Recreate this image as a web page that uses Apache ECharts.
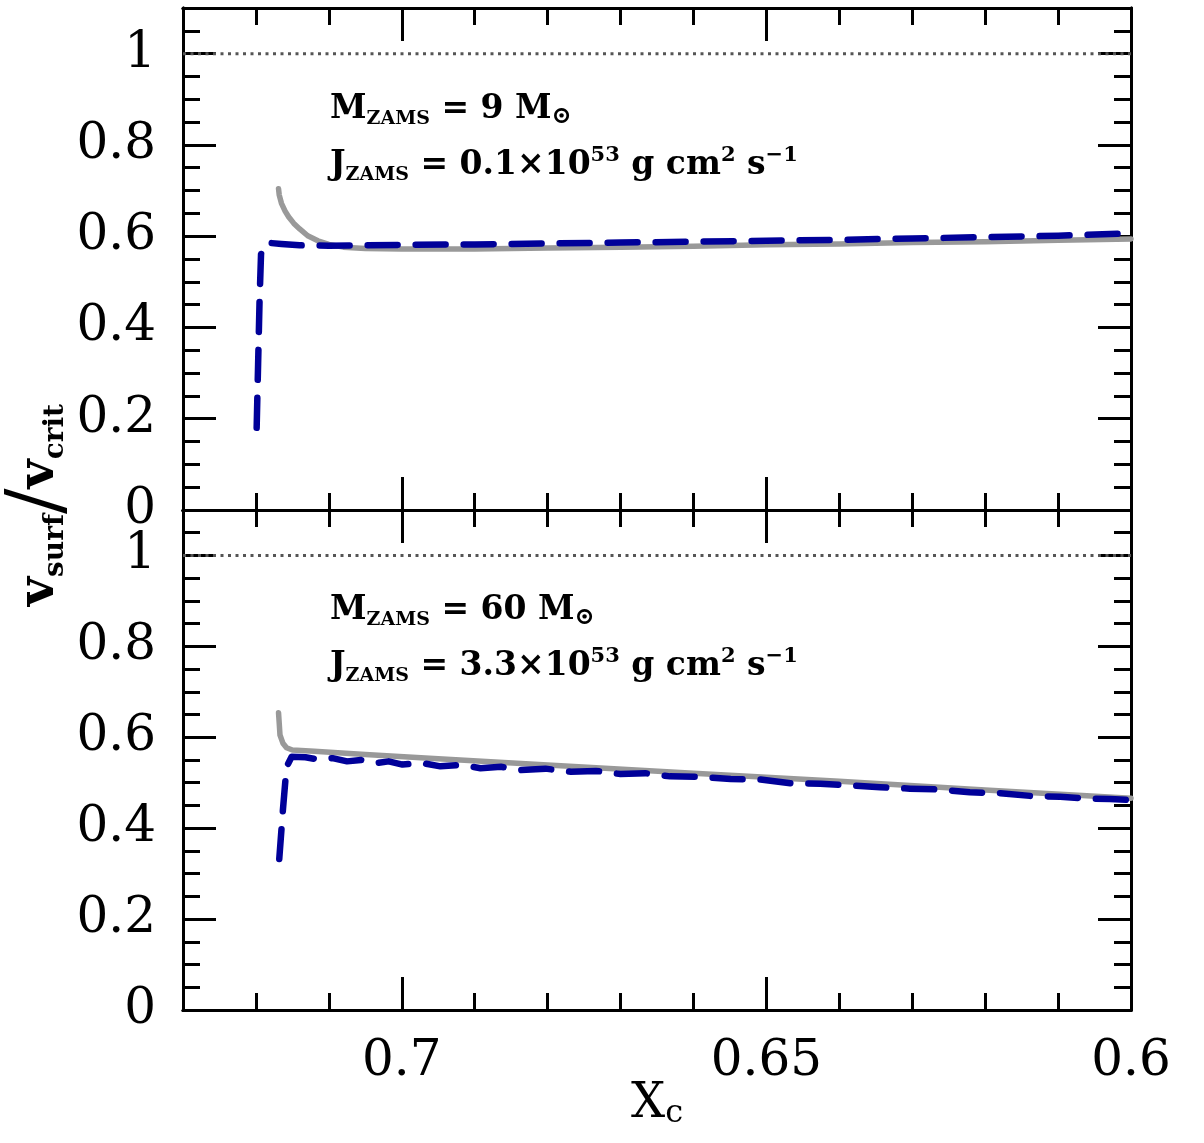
<!DOCTYPE html>
<html>
<head>
<meta charset="utf-8">
<script src="https://cdn.jsdelivr.net/npm/echarts@6/dist/echarts.min.js"></script>
<style>
html,body{margin:0;padding:0;background:#fff;}
#chart{width:1204px;height:1143px;}
</style>
</head>
<body>
<div id="chart"></div>
<script>
// ---- tick values / labels ----
const xMajorTicks = [0.7, 0.65, 0.6];
const xMinorTicks = [0.73, 0.72, 0.71, 0.70, 0.69, 0.68, 0.67, 0.66, 0.65, 0.64, 0.63, 0.62, 0.61, 0.60];
const yMajorTicks = [0, 0.2, 0.4, 0.6, 0.8, 1];
const yMinorTicks = [0, 0.05, 0.1, 0.15, 0.2, 0.25, 0.3, 0.35, 0.4, 0.45, 0.5, 0.55, 0.6, 0.65, 0.7, 0.75, 0.8, 0.85, 0.9, 0.95, 1, 1.05, 1.1];

// ---- data: [X_c, v_surf/v_crit] ----
const topGray = [[0.7169,0.704],[0.7168,0.690],[0.7165,0.672],[0.7160,0.655],[0.7155,0.642],[0.7148,0.628],[0.7140,0.616],[0.7129,0.601],[0.7115,0.590],[0.7100,0.582],[0.7080,0.576],[0.7050,0.573],[0.700,0.572],[0.69,0.572],[0.68,0.574],[0.67,0.576],[0.66,0.578],[0.65,0.581],[0.64,0.583],[0.63,0.586],[0.62,0.588],[0.61,0.591],[0.60,0.594]];
const topBlue = [[0.7199,0.18],[0.7197,0.32],[0.7195,0.46],[0.7193,0.560],[0.7191,0.577],[0.7188,0.583],[0.7180,0.585],[0.7165,0.583],[0.714,0.580],[0.710,0.579],[0.705,0.580],[0.700,0.581],[0.69,0.582],[0.68,0.584],[0.67,0.586],[0.66,0.588],[0.65,0.590],[0.64,0.592],[0.63,0.595],[0.62,0.598],[0.61,0.601],[0.60,0.606]];
const botGray = [[0.7169,0.654],[0.7168,0.630],[0.7167,0.605],[0.7163,0.587],[0.7158,0.577],[0.7150,0.572],[0.712,0.569],[0.705,0.562],[0.695,0.553],[0.68,0.539],[0.66,0.521],[0.64,0.503],[0.62,0.484],[0.60,0.466]];
const botBlue = [[0.7168,0.332],[0.7163,0.44],[0.7158,0.535],[0.7151,0.557],[0.7132,0.556],[0.7114,0.551],[0.7095,0.554],[0.7075,0.547],[0.7056,0.550],[0.7037,0.543],[0.7018,0.547],[0.6999,0.540],[0.6974,0.544],[0.6947,0.536],[0.6919,0.539],[0.6892,0.532],[0.6864,0.535],[0.6837,0.528],[0.6803,0.531],[0.6768,0.524],[0.6734,0.526],[0.6700,0.519],[0.6666,0.521],[0.6632,0.514],[0.6590,0.513],[0.6549,0.508],[0.6508,0.507],[0.6467,0.499],[0.6426,0.498],[0.6385,0.494],[0.6344,0.490],[0.6303,0.487],[0.6262,0.485],[0.6221,0.479],[0.6179,0.477],[0.6138,0.471],[0.6097,0.469],[0.6056,0.465],[0.6029,0.464],[0.6000,0.462]];
const critLine = [[0.73,1],[0.60,1]];

const SERIF = "'DejaVu Serif', serif";
const chart = echarts.init(document.getElementById('chart'));

const grids = [
  {left:183, right:73, top:8, height:502},
  {left:183, right:73, top:510, height:500}
];

function xAx(g, pos, ticks, len, labels) {
  return {
    type:'value', gridIndex:g, position:pos, min:0.6, max:0.73, inverse:true,
    axisLine:{show:true, onZero:false, lineStyle:{color:'#000', width:3}},
    axisTick:{show:true, inside:true, length:len, customValues:ticks, lineStyle:{color:'#000', width:3}},
    axisLabel:{show:labels, customValues:xMajorTicks, fontFamily:SERIF, fontSize:50, color:'#000', margin:27},
    splitLine:{show:false}
  };
}
function yAx(g, pos, ticks, len, labels) {
  return {
    type:'value', gridIndex:g, position:pos, min:0, max:1.1,
    axisLine:{show:true, onZero:false, lineStyle:{color:'#000', width:3}},
    axisTick:{show:true, inside:true, length:len, customValues:ticks, lineStyle:{color:'#000', width:3}},
    axisLabel:{show:labels, customValues:yMajorTicks, fontFamily:SERIF, fontSize:50, color:'#000', margin:27},
    splitLine:{show:false}
  };
}

const xAxes = [], yAxes = [];
[0,1].forEach(g => {
  xAxes.push(xAx(g,'bottom',xMajorTicks,33,g===1));   // index 4g
  xAxes.push(xAx(g,'bottom',xMinorTicks,17,false));
  xAxes.push(xAx(g,'top',xMajorTicks,33,false));
  xAxes.push(xAx(g,'top',xMinorTicks,17,false));
  yAxes.push(yAx(g,'left',yMajorTicks,33,true));       // index 4g
  yAxes.push(yAx(g,'left',yMinorTicks,17,false));
  yAxes.push(yAx(g,'right',yMajorTicks,33,false));
  yAxes.push(yAx(g,'right',yMinorTicks,17,false));
});

function lineS(g, data, color, width, type, z, cap) {
  return {
    type:'line', xAxisIndex:4*g, yAxisIndex:4*g, data:data, showSymbol:false, symbol:'none',
    clip:true, z:z, animation:false,
    lineStyle:{color:color, width:width, type:type, cap:cap || 'round', join:'round'}
  };
}

const series = [
  lineS(0, critLine, '#555555', 3, [3,4.5], 2, 'butt'),
  lineS(0, topGray, '#999999', 5.5, 'solid', 3),
  lineS(0, topBlue, '#000099', 6.5, [30,18], 4),
  lineS(1, critLine, '#555555', 3, [3,4.5], 2, 'butt'),
  lineS(1, botGray, '#999999', 5.5, 'solid', 3),
  lineS(1, botBlue, '#000099', 6.5, [30,18], 4)
];

const annRich = {
  n:{fontSize:33, fontWeight:'bold', fontFamily:SERIF, color:'#000', lineHeight:40},
  s:{fontSize:19, fontWeight:'bold', fontFamily:SERIF, color:'#000', lineHeight:10, verticalAlign:'bottom'},
  o:{fontSize:24, fontWeight:'bold', fontFamily:SERIF, color:'#000', lineHeight:12, verticalAlign:'bottom'},
  p:{fontSize:21, fontWeight:'bold', fontFamily:SERIF, color:'#000', lineHeight:14, verticalAlign:'top'}
};
function ann(x, y, text) {
  return {type:'text', x:x, y:y, z:100, style:{text:text, rich:annRich, align:'left', verticalAlign:'middle'}};
}

const option = {
  animation:false,
  backgroundColor:'#fff',
  grid:grids,
  xAxis:xAxes,
  yAxis:yAxes,
  series:series,
  graphic:[
    ann(330, 109, '{n|M}{s|ZAMS}{n| = 9 M}{o|\u2299}'),
    ann(330, 165, '{n|J}{s|ZAMS}{n| = 0.1\u00d710}{p|53}{n| g cm}{p|2}{n| s}{p|\u22121}'),
    ann(330, 610, '{n|M}{s|ZAMS}{n| = 60 M}{o|\u2299}'),
    ann(330, 666, '{n|J}{s|ZAMS}{n| = 3.3\u00d710}{p|53}{n| g cm}{p|2}{n| s}{p|\u22121}'),
    {type:'text', x:40, y:505, rotation:Math.PI/2, z:100,
     style:{text:'{v|v}{s|surf}{sl|/}{v|v}{s|crit}', align:'center', verticalAlign:'middle',
       rich:{
         v:{fontSize:50, fontWeight:'bold', fontFamily:SERIF, color:'#000', lineHeight:60},
         s:{fontSize:28, fontWeight:'bold', fontFamily:SERIF, color:'#000', lineHeight:20, verticalAlign:'bottom'},
         sl:{fontSize:76, fontFamily:SERIF, color:'#000', lineHeight:60}
       }}},
    {type:'text', x:657, y:1105, z:100,
     style:{text:'{x|X}{c|c}', align:'center', verticalAlign:'middle',
       rich:{
         x:{fontSize:48, fontFamily:SERIF, color:'#000', lineHeight:50},
         c:{fontSize:32, fontFamily:SERIF, color:'#000', lineHeight:22, verticalAlign:'bottom'}
       }}}
  ]
};
chart.setOption(option);
</script>
</body>
</html>
